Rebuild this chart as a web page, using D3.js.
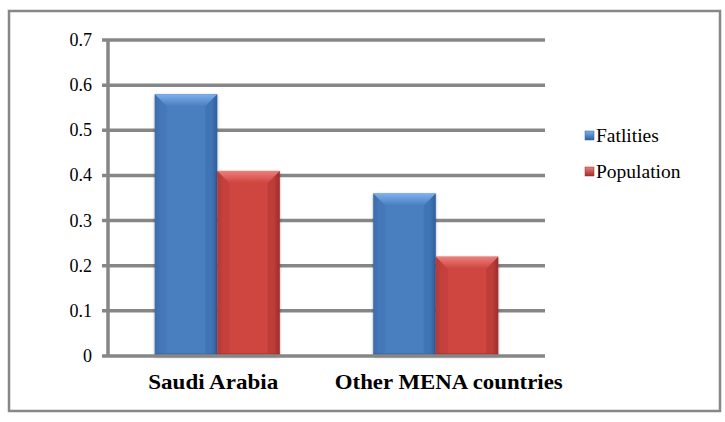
<!DOCTYPE html>
<html><head><meta charset="utf-8">
<script src="https://cdn.jsdelivr.net/npm/d3@7"></script>
<style>body{margin:0;background:#fff;}svg{display:block;}</style>
</head><body>
<script>
const categories = ["Saudi Arabia", "Other MENA countries"];
const seriesNames = ["Fatlities", "Population"];
const fatalities = [0.58, 0.36];
const population = [0.41, 0.22];
const yTicks = [0, 0.1, 0.2, 0.3, 0.4, 0.5, 0.6, 0.7];
const yTickLabels = ["0", "0.1", "0.2", "0.3", "0.4", "0.5", "0.6", "0.7"];

(function() {
const W = 725, H = 422;
const svg = d3.select("body").append("svg").attr("width", W).attr("height", H);

// outer border
svg.append("rect").attr("x", 9).attr("y", 11).attr("width", 711).attr("height", 400)
  .attr("fill", "#fff").attr("stroke", "#878787").attr("stroke-width", 2.5);

const pl = 108, pr = 545, pt = 40, pb = 356;
const y = d3.scaleLinear().domain([0, 0.7]).range([pb, pt]);
const x0 = d3.scaleBand().domain(categories).range([pl, pr]).paddingInner(0).paddingOuter(0);
const x1 = d3.scaleBand().domain(seriesNames).range([0, 125]);

const defs = svg.append("defs");
const palettes = {
  "Fatlities": {main: "#4a7ebf", dark: "#2f5f9e", light: "#7fb0ee", edge: "#3d6cab"},
  "Population": {main: "#cf4440", dark: "#9c2f2c", light: "#ec807c", edge: "#b33a37"}
};
seriesNames.forEach((s, i) => {
  const p = palettes[s];
  const g = defs.append("linearGradient").attr("id", "g" + i).attr("x1", 0).attr("x2", 1).attr("y1", 0).attr("y2", 0);
  g.append("stop").attr("offset", "0").attr("stop-color", p.edge);
  g.append("stop").attr("offset", "0.1").attr("stop-color", p.main);
  g.append("stop").attr("offset", "0.9").attr("stop-color", p.main);
  g.append("stop").attr("offset", "1").attr("stop-color", p.dark);
  const gt = defs.append("linearGradient").attr("id", "gt" + i).attr("x1", 0).attr("x2", 0).attr("y1", 0).attr("y2", 1);
  gt.append("stop").attr("offset", "0").attr("stop-color", p.light);
  gt.append("stop").attr("offset", "1").attr("stop-color", p.main);
  const gl = defs.append("linearGradient").attr("id", "gl" + i).attr("x1", 0).attr("x2", 0).attr("y1", 0).attr("y2", 1);
  gl.append("stop").attr("offset", "0").attr("stop-color", p.light);
  gl.append("stop").attr("offset", "1").attr("stop-color", p.dark);
});
const shadow = defs.append("filter").attr("id", "sh").attr("x", "-20%").attr("y", "-20%").attr("width", "140%").attr("height", "140%");
shadow.append("feGaussianBlur").attr("in", "SourceAlpha").attr("stdDeviation", 1.5).attr("result", "b");
shadow.append("feOffset").attr("in", "b").attr("dx", 0).attr("dy", 1).attr("result", "o");
shadow.append("feComponentTransfer").attr("in", "o").attr("result", "o2")
  .append("feFuncA").attr("type", "linear").attr("slope", 0.35);
const m = shadow.append("feMerge");
m.append("feMergeNode").attr("in", "o2");
m.append("feMergeNode").attr("in", "SourceGraphic");

// gridlines
svg.append("g").selectAll("line").data(yTicks.filter(d => d > 0)).join("line")
  .attr("x1", pl - 6).attr("x2", pr).attr("y1", d => y(d)).attr("y2", d => y(d))
  .attr("stroke", "#868686").attr("stroke-width", 3.5);

// y axis vertical line
svg.append("line").attr("x1", pl).attr("x2", pl).attr("y1", y(0.7)).attr("y2", y(0))
  .attr("stroke", "#868686").attr("stroke-width", 3.5);

// tick labels
svg.append("g").selectAll("text").data(yTicks).join("text")
  .attr("x", 92).attr("y", d => y(d) + 6)
  .attr("text-anchor", "end")
  .attr("font-family", "Liberation Serif, serif").attr("font-size", 18).attr("fill", "#000")
  .text((d, i) => yTickLabels[i]);

// bars
const data = [];
categories.forEach((c, ci) => {
  data.push({cat: c, s: "Fatlities", si: 0, v: fatalities[ci]});
  data.push({cat: c, s: "Population", si: 1, v: population[ci]});
});
const bars = svg.append("g").selectAll("g").data(data).join("g").attr("filter", "url(#sh)");
bars.each(function(d) {
  const g = d3.select(this);
  const bx = x0(d.cat) + (x0.bandwidth() - 125) / 2 + x1(d.s);
  const bw = x1.bandwidth();
  const by = y(d.v), bh = y(0) - y(d.v);
  const p = palettes[d.s];
  g.append("rect").attr("x", bx).attr("y", by).attr("width", bw).attr("height", bh)
    .attr("fill", `url(#g${d.si})`);
  const bev = 12;
  g.append("path")
    .attr("d", `M${bx},${by} L${bx + bw},${by} L${bx + bw - bev},${by + bev} L${bx + bev},${by + bev} Z`)
    .attr("fill", `url(#gt${d.si})`);
  g.append("path")
    .attr("d", `M${bx},${by} L${bx + bev},${by + bev} L${bx + bev},${by + bh - 3} L${bx},${by + bh} Z`)
    .attr("fill", p.edge).attr("opacity", 0.35);
  g.append("path")
    .attr("d", `M${bx + bw},${by} L${bx + bw - bev},${by + bev} L${bx + bw - bev},${by + bh - 3} L${bx + bw},${by + bh} Z`)
    .attr("fill", p.dark).attr("opacity", 0.3);
  g.append("rect").attr("x", bx).attr("y", by + bh - 3).attr("width", bw).attr("height", 3)
    .attr("fill", p.dark).attr("opacity", 0.45);
});

// zero baseline
svg.append("line").attr("x1", pl - 6).attr("x2", pr).attr("y1", y(0)).attr("y2", y(0))
  .attr("stroke", "#868686").attr("stroke-width", 3.5);

// category labels
const labelDx = [-4, 13];
const labelLen = [130, 228];
svg.append("g").selectAll("text").data(categories).join("text")
  .attr("x", (d, i) => x0(d) + x0.bandwidth() / 2 + labelDx[i]).attr("y", 389)
  .attr("text-anchor", "middle")
  .attr("font-family", "Liberation Serif, serif").attr("font-weight", "bold")
  .attr("font-size", 21.5).attr("fill", "#000")
  .attr("textLength", (d, i) => labelLen[i]).attr("lengthAdjust", "spacingAndGlyphs")
  .text(d => d);

// legend
const leg = svg.append("g").selectAll("g").data(seriesNames).join("g")
  .attr("transform", (d, i) => `translate(585, ${131 + i * 36})`);
leg.append("rect").attr("width", 9).attr("height", 9)
  .attr("fill", (d, i) => `url(#gl${i})`).attr("stroke", d => palettes[d].dark).attr("stroke-width", 0.5);
leg.append("text").attr("x", 11).attr("y", 11)
  .attr("font-family", "Liberation Serif, serif").attr("font-size", 19.5).attr("fill", "#000")
  .text(d => d);
})();
</script>
</body></html>
